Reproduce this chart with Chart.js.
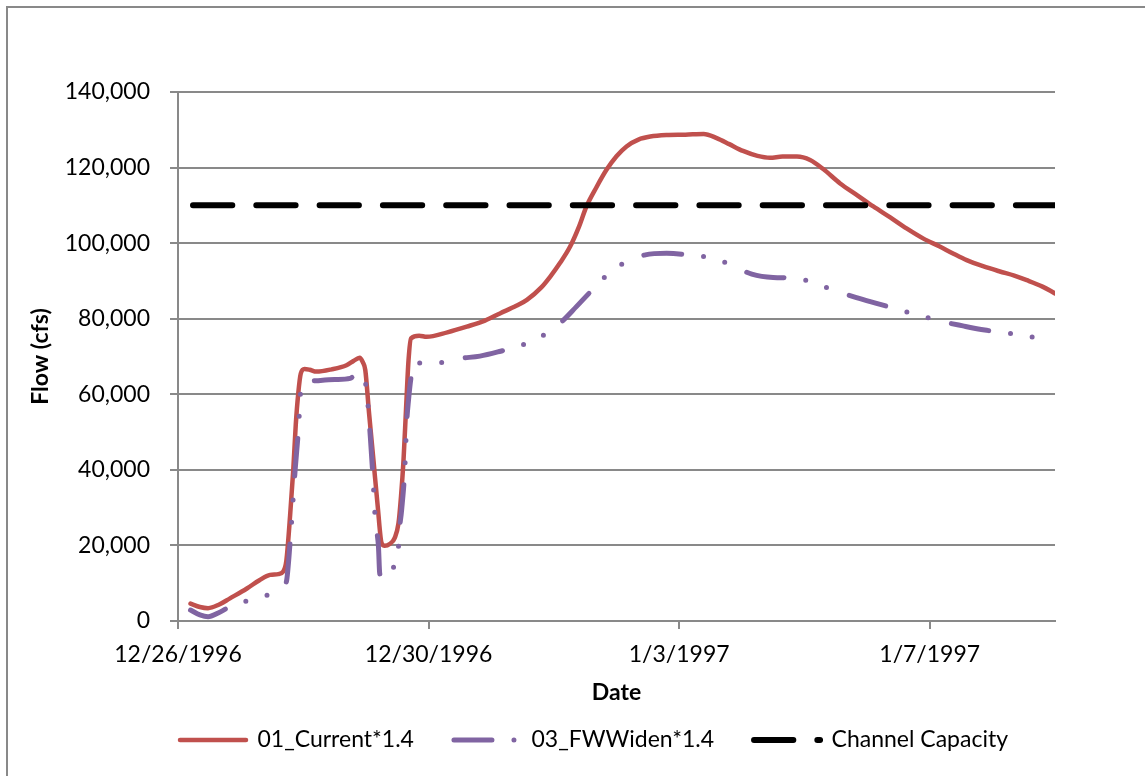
<!DOCTYPE html>
<html>
<head>
<meta charset="utf-8">
<script src="https://cdn.jsdelivr.net/npm/chart.js@4/dist/chart.umd.min.js"></script>
<style>
    html, body { margin: 0; padding: 0; background: #fff; }
    canvas { display: block; }
</style>
</head>
<body>
<canvas id="graphique" width="1145" height="776"></canvas>
<script>
// Axe X en jours depuis le 12/26/1996
const tickDays = [0, 4, 8, 12];
const tickLabels = ["12/26/1996", "12/30/1996", "1/3/1997", "1/7/1997"];

// 01_Current*1.4
const currentDays = [0.2, 0.35, 0.48, 0.65, 0.83, 1.1, 1.3, 1.47, 1.6, 1.68, 1.73, 1.79, 1.84, 1.88, 1.92, 1.96,
    2.02, 2.1, 2.21, 2.45, 2.69, 2.8, 2.9, 2.95, 2.99, 3.05, 3.12, 3.19, 3.25, 3.3, 3.38, 3.46, 3.52, 3.56,
    3.6, 3.64, 3.68, 3.72, 3.85, 3.97, 4.3, 4.61, 4.9, 5.14, 5.4, 5.57, 5.8, 5.94, 6.1, 6.26, 6.4, 6.52,
    6.68, 6.84, 7.0, 7.16, 7.35, 7.54, 7.8, 8.1, 8.39, 8.6, 8.8, 9.02, 9.25, 9.45, 9.65, 9.88, 10.09, 10.3,
    10.57, 10.85, 11.1, 11.37, 11.63, 11.9, 12.16, 12.38, 12.59, 12.85, 13.12, 13.35, 13.55, 13.8, 14.0];
const currentFlow = [4600, 3700, 3400, 4300, 6000, 8600, 10800, 12200, 12400, 13100, 16000, 28000, 40000, 52000, 60300, 65500,
    66700, 66500, 66000, 66600, 67700, 68800, 69700, 68500, 66400, 55000, 42600, 30000, 20600, 19900, 20400, 22000, 25900, 33000,
    42600, 56000, 69000, 74800, 75500, 75200, 76400, 77900, 79500, 81400, 83400, 85000, 88300, 91100, 94800, 99100, 104300, 109700,
    114800, 119400, 123000, 125600, 127400, 128200, 128600, 128700, 128900, 127800, 126200, 124400, 123100, 122600, 122900, 122900, 122000, 119600,
    115800, 112600, 109700, 106800, 103900, 101200, 99100, 97200, 95500, 93900, 92500, 91400, 90200, 88500, 86700];

// 03_FWWiden*1.4
const widenDays = [0.2, 0.35, 0.48, 0.65, 0.83, 1.18, 1.52, 1.7, 1.73, 1.79, 1.87, 1.92, 1.97, 2.05, 2.21, 2.5,
    2.75, 2.85, 2.95, 3.01, 3.07, 3.11, 3.15, 3.2, 3.22, 3.26, 3.33, 3.42, 3.51, 3.53, 3.57, 3.62, 3.65, 3.68,
    3.72, 3.76, 4.13, 4.5, 4.82, 5.15, 5.49, 5.81, 6.11, 6.36, 6.6, 6.82, 7.11, 7.46, 7.8, 8.15, 8.47, 8.81,
    9.16, 9.5, 9.88, 10.14, 10.49, 10.83, 11.21, 11.5, 11.82, 12.16, 12.53, 12.88, 13.2, 13.55, 13.88, 14.0];
const widenFlow = [2900, 1600, 1100, 2200, 3800, 5700, 7500, 9800, 10400, 21000, 40000, 50100, 62500, 63400, 63600, 63900,
    64200, 65400, 65000, 61100, 48800, 38600, 26700, 19700, 12600, 11400, 11600, 14000, 17000, 23200, 29400, 40000, 52300, 58500,
    64500, 68200, 68300, 69500, 70100, 71400, 73000, 75400, 79000, 83200, 87400, 91100, 94700, 96900, 97300, 96900, 96200, 94400,
    91800, 90900, 90700, 89500, 87400, 85600, 83800, 82400, 81000, 79400, 78100, 77000, 76300, 75500, 73900, 73500];

// Channel Capacity
const capacityDays = [0, 14];
const capacityFlow = [110000, 110000];

const grisGrille = "#898989";

function versPoints(jours, debits) {
    return jours.map((j, i) => ({ x: j, y: debits[i] }));
}

Chart.defaults.font.family = "Lato, 'Open Sans', sans-serif";
Chart.defaults.font.size = 23;
Chart.defaults.color = "#000";

// cadre gris autour du graphique + position de la légende
const cadre = {
    id: "cadre",
    afterLayout(chart) {
        chart.legend.left = 180 - 40;
        chart.legend.right = 2000;
    },
    afterDraw(chart) {
        const ctx = chart.ctx;
        ctx.save();
        ctx.strokeStyle = grisGrille;
        ctx.lineWidth = 2;
        ctx.beginPath();
        ctx.moveTo(7, 776);
        ctx.lineTo(7, 7);
        ctx.lineTo(1145, 7);
        ctx.stroke();
        ctx.restore();
    }
};

const canvasGraphique = document.getElementById("graphique");
const graphique = new Chart(canvasGraphique, {
    type: "line",
    data: {
        datasets: [
            {
                label: "01_Current*1.4",
                data: versPoints(currentDays, currentFlow),
                borderColor: "#C0504D",
                backgroundColor: "#C0504D",
                borderWidth: 4.5,
                borderCapStyle: "round",
                borderJoinStyle: "round",
                cubicInterpolationMode: "monotone",
                pointRadius: 0,
                pointStyle: "line",
                fill: false,
                order: 3,
            },
            {
                label: "03_FWWiden*1.4",
                data: versPoints(widenDays, widenFlow),
                borderColor: "#8064A2",
                backgroundColor: "#8064A2",
                borderWidth: 5,
                borderDash: [38, 22, 0, 22, 0, 24],
                borderCapStyle: "round",
                borderJoinStyle: "round",
                cubicInterpolationMode: "monotone",
                pointRadius: 0,
                pointStyle: "line",
                fill: false,
                order: 2,
            },
            {
                label: "Channel Capacity",
                data: versPoints(capacityDays, capacityFlow),
                borderColor: "#000",
                backgroundColor: "#000",
                borderWidth: 6,
                borderDash: [39.3, 24],
                borderDashOffset: 48.3,
                borderCapStyle: "round",
                pointRadius: 0,
                pointStyle: "line",
                fill: false,
                order: 1,
            },
        ],
    },
    options: {
        responsive: false,
        animation: false,
        layout: {
            padding: { top: 92, right: 90, bottom: 14.5, left: 0 },
        },
        scales: {
            x: {
                type: "linear",
                min: 0,
                max: 14,
                afterBuildTicks: (scale) => {
                    scale.ticks = tickDays.map((d) => ({ value: d }));
                },
                afterFit: (scale) => {
                    scale.height = 67.5;
                },
                ticks: {
                    autoSkip: false,
                    maxRotation: 0,
                    padding: 12,
                    callback: (value) => {
                        const i = tickDays.indexOf(value);
                        return i >= 0 ? tickLabels[i] : "";
                    },
                },
                grid: {
                    drawOnChartArea: false,
                    drawTicks: true,
                    tickLength: 8,
                    color: grisGrille,
                    lineWidth: 2,
                },
                border: { display: true, color: grisGrille, width: 2 },
                title: {
                    display: true,
                    text: "Date",
                    font: { weight: "bold" },
                    padding: { top: 0, bottom: -18.3 },
                },
            },
            y: {
                min: 0,
                max: 140000,
                afterFit: (scale) => {
                    scale.width = 178;
                },
                ticks: {
                    stepSize: 20000,
                    padding: 20,
                    callback: (value) => value.toLocaleString("en-US"),
                },
                grid: {
                    drawTicks: true,
                    tickLength: 8,
                    color: grisGrille,
                    lineWidth: 2,
                },
                border: { display: true, color: grisGrille, width: 2 },
                title: {
                    display: true,
                    text: "Flow (cfs)",
                    font: { weight: "bold" },
                    padding: { top: 27, bottom: 0 },
                },
            },
        },
        plugins: {
            tooltip: { enabled: false },
            legend: {
                position: "bottom",
                align: "start",
                labels: {
                    usePointStyle: true,
                    pointStyleWidth: 66,
                    padding: 40,
                    color: "#000",
                    sort: (a, b) => a.datasetIndex - b.datasetIndex,
                    // reprendre le style du trait (tirets) de chaque série dans la légende
                    generateLabels: (chart) => {
                        const items = Chart.defaults.plugins.legend.labels.generateLabels(chart);
                        items.forEach((item) => {
                            const ds = chart.data.datasets[item.datasetIndex];
                            item.lineDash = ds.borderDash || [];
                            item.lineDashOffset = 0;
                            item.lineCap = "round";
                            item.lineWidth = ds.borderWidth;
                            item.strokeStyle = ds.borderColor;
                        });
                        return items;
                    },
                },
            },
        },
    },
    plugins: [cadre],
});
</script>
</body>
</html>
